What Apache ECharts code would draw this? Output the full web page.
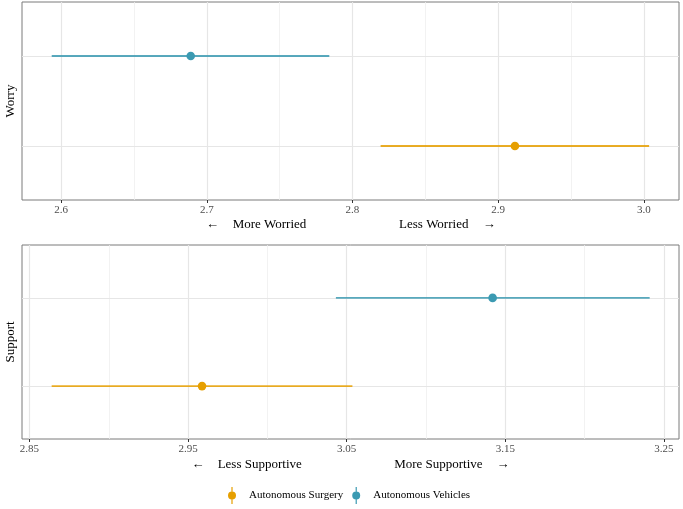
<!DOCTYPE html>
<html>
<head>
<meta charset="utf-8">
<script src="https://cdn.jsdelivr.net/npm/echarts@6/dist/echarts.min.js"></script>
<style>html,body{margin:0;padding:0;background:#fff}#c{width:683px;height:509px}</style>
</head>
<body>
<div id="c"></div>
<script>
// ---- data ----
const categories = ['Autonomous Surgery', 'Autonomous Vehicles'];
const colors = ['#E69F00', '#3B9AB2'];

const worryMean = [2.9115, 2.689];
const worryLow  = [2.8193, 2.5936];
const worryHigh = [3.0036, 2.7841];

const supportMean = [2.9588, 3.142];
const supportLow  = [2.864, 3.0432];
const supportHigh = [3.0536, 3.241];

const worryTicks = [2.6, 2.7, 2.8, 2.9, 3.0];
const worryMinor = [2.65, 2.75, 2.85, 2.95];
const supportTicks = [2.85, 2.95, 3.05, 3.15, 3.25];
const supportMinor = [2.90, 3.00, 3.10, 3.20];

const panelNames = ['Worry', 'Support'];
// ---------------

const serif = 'Liberation Serif, Times New Roman, serif';
const chart = echarts.init(document.getElementById('c'), null, {renderer: 'canvas'});

function gridLines(xi, major, minor) {
  const d = [];
  minor.forEach(v => d.push({xAxis: v, lineStyle: {color: '#efefef', width: 0.8, type: 'solid'}}));
  major.forEach(v => d.push({xAxis: v, lineStyle: {color: '#e6e6e6', width: 1.2, type: 'solid'}}));
  categories.forEach((c, i) => d.push({yAxis: i + 1, lineStyle: {color: '#e6e6e6', width: 1.2, type: 'solid'}}));
  return {
    type: 'line', xAxisIndex: xi, yAxisIndex: xi, z: 1, silent: true,
    data: [[major[0], 1]], symbol: 'none', lineStyle: {opacity: 0},
    markLine: {z: 1, zlevel: 0, silent: true, symbol: 'none', animation: false, label: {show: false}, data: d}
  };
}

function barSeries(xi, i, low, high) {
  return {
    type: 'line', name: categories[i], xAxisIndex: xi, yAxisIndex: xi, z: 3, silent: true,
    data: [[low[i], i + 1], [high[i], i + 1]],
    symbol: 'none', color: colors[i],
    lineStyle: {color: colors[i], width: 1.8, opacity: 0.85}
  };
}

function pointSeries(xi, i, mean) {
  return {
    type: 'scatter', name: categories[i], xAxisIndex: xi, yAxisIndex: xi, z: 4, silent: true,
    data: [[mean[i], i + 1]],
    symbol: 'circle', symbolSize: 8.6, color: colors[i],
    itemStyle: {color: colors[i], opacity: 1}
  };
}

function richName(texts, widths) {
  const st = w => ({width: w, align: 'left', fontSize: 13, fontFamily: serif, color: '#000', lineHeight: 14});
  return {
    name: '{a|' + texts[0] + '}{b|' + texts[1] + '}{c|' + texts[2] + '}{d|' + texts[3] + '}',
    rich: {a: st(widths[0]), b: st(widths[1]), c: st(widths[2]), d: st(widths[3])}
  };
}

const n1 = richName(['←', 'More Worried', 'Less Worried', '→'], [26.6, 166.4, 83.7, 12.2]);
const n2 = richName(['←', 'Less Supportive', 'More Supportive', '→'], [26.2, 176.5, 102.4, 13]);

function xAxisDef(gi, min, max, ticks, dec, nm, gap) {
  return {
    type: 'value', gridIndex: gi, min: min, max: max,
    axisLine: {show: false},
    axisTick: {show: true, length: 3, lineStyle: {color: '#333', width: 1}, customValues: ticks},
    axisLabel: {show: true, customValues: ticks, margin: 5, fontSize: 11, fontFamily: serif, color: '#4d4d4d',
      formatter: v => Number(v).toFixed(dec)},
    splitLine: {show: false},
    name: nm.name, nameLocation: 'middle', nameGap: gap,
    nameTextStyle: {rich: nm.rich}
  };
}

function yAxisDef(gi, name) {
  return {
    type: 'value', gridIndex: gi, min: 0.4, max: 2.6,
    axisLine: {show: false}, axisTick: {show: false}, axisLabel: {show: false}, splitLine: {show: false},
    name: name, nameLocation: 'middle', nameRotate: 90, nameGap: 5,
    nameTextStyle: {fontSize: 13, fontFamily: serif, color: '#000'}
  };
}

const iconPath = 'path://M4.4,0 L5.6,0 L5.6,17 L4.4,17 Z M5,4.5 A4,4 0 1,1 5,12.5 A4,4 0 1,1 5,4.5 Z';

const option = {
  animation: false,
  backgroundColor: '#fff',
  grid: [
    {left: 22, right: 4, top: 2, height: 198, show: true, borderColor: '#7a7a7a', borderWidth: 1,
     backgroundColor: 'transparent', outerBoundsMode: 'none', containLabel: false},
    {left: 22, right: 4, top: 245, height: 194, show: true, borderColor: '#7a7a7a', borderWidth: 1,
     backgroundColor: 'transparent', outerBoundsMode: 'none', containLabel: false}
  ],
  xAxis: [
    xAxisDef(0, 2.5732, 3.0241, worryTicks, 1, n1, 18),
    xAxisDef(1, 2.8453, 3.2595, supportTicks, 2, n2, 19)
  ],
  yAxis: [yAxisDef(0, panelNames[0]), yAxisDef(1, panelNames[1])],
  legend: {
    left: 228, top: 487, orient: 'horizontal', padding: 0,
    itemWidth: 8, itemHeight: 17, itemGap: 9,
    textStyle: {fontSize: 11, fontFamily: serif, color: '#000', padding: [0, 0, 0, 8]},
    data: categories.map((c, i) => ({name: c, icon: iconPath, itemStyle: {color: colors[i]}}))
  },
  series: [
    gridLines(0, worryTicks, worryMinor),
    gridLines(1, supportTicks, supportMinor),
    barSeries(0, 0, worryLow, worryHigh),
    barSeries(0, 1, worryLow, worryHigh),
    barSeries(1, 0, supportLow, supportHigh),
    barSeries(1, 1, supportLow, supportHigh),
    pointSeries(0, 0, worryMean),
    pointSeries(0, 1, worryMean),
    pointSeries(1, 0, supportMean),
    pointSeries(1, 1, supportMean)
  ]
};
chart.setOption(option);
</script>
</body>
</html>
